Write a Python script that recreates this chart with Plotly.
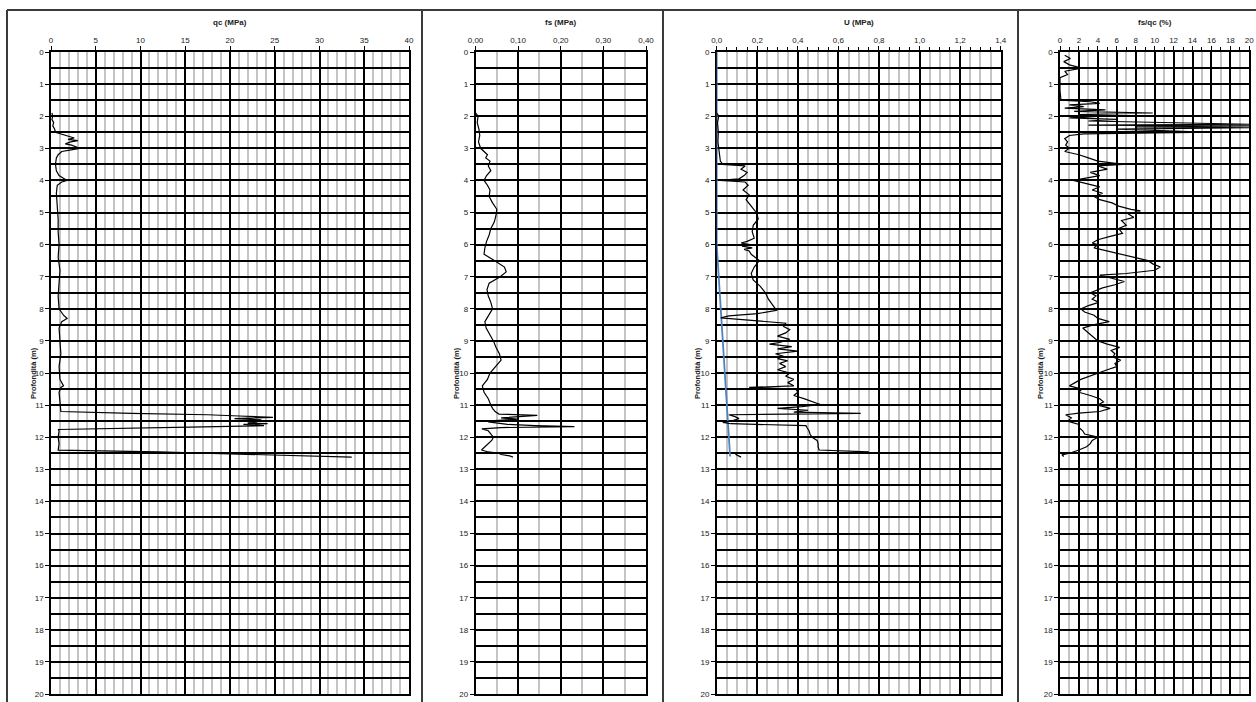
import plotly.graph_objects as go

# ---------------- CPTU profile data ----------------
# Cone resistance qc (MPa)
depth_qc = [1.90, 2.00, 2.10, 2.20, 2.30, 2.40, 2.50, 2.56, 2.62, 2.68, 2.72, 2.76, 2.80, 2.86,
            2.90, 2.96, 3.00, 3.04, 3.10, 3.20, 3.30, 3.50, 3.70, 3.85, 3.95, 4.00, 4.05, 4.15,
            4.40, 4.80, 5.20, 5.60, 6.00, 6.40, 6.80, 7.20, 7.60, 8.00, 8.20, 8.30, 8.40, 8.60,
            9.00, 9.40, 9.80, 10.20, 10.40, 10.45, 10.60, 10.90, 11.20, 11.26, 11.30, 11.34,
            11.38, 11.42, 11.46, 11.50, 11.52, 11.56, 11.58, 11.60, 11.64, 11.68, 11.72, 11.76,
            11.80, 12.00, 12.20, 12.40, 12.46, 12.50, 12.54, 12.58, 12.62]
qc = [0.1, 0.2, 0.1, 0.3, 0.2, 0.4, 0.5, 1.2, 1.8, 2.6, 1.9, 3.0, 2.2, 1.6,
      2.3, 2.9, 3.2, 2.4, 1.2, 0.8, 0.6, 0.5, 0.6, 0.9, 1.5, 1.8, 1.2, 0.7,
      0.6, 0.7, 0.8, 0.8, 0.9, 0.8, 1.0, 0.9, 0.8, 0.9, 1.4, 1.8, 1.2, 0.9,
      1.0, 1.1, 0.9, 1.0, 1.4, 1.1, 0.9, 1.0, 1.1, 9.0, 17.5, 21.0,
      24.8, 20.5, 23.5, 21.2, 23.0, 22.0, 24.2, 21.5, 23.8, 17.0, 6.0, 0.8,
      0.9, 0.8, 0.9, 0.8, 12.0, 18.0, 24.5, 30.0, 33.6]

# Sleeve friction fs (MPa)
depth_fs = [1.90, 2.00, 2.20, 2.40, 2.60, 2.80, 3.00, 3.10, 3.20, 3.30, 3.40, 3.55, 3.70, 3.85,
            4.00, 4.15, 4.30, 4.50, 4.70, 4.90, 5.10, 5.30, 5.50, 5.70, 5.90, 6.10, 6.30, 6.50,
            6.70, 6.85, 7.00, 7.20, 7.40, 7.60, 7.80, 8.00, 8.20, 8.40, 8.60, 8.80, 9.00, 9.20,
            9.40, 9.60, 9.80, 10.00, 10.20, 10.40, 10.60, 10.80, 11.00, 11.10, 11.20, 11.28,
            11.32, 11.36, 11.40, 11.44, 11.48, 11.52, 11.56, 11.60, 11.64, 11.67, 11.70, 11.74,
            11.80, 11.90, 12.00, 12.10, 12.20, 12.30, 12.40, 12.46, 12.50, 12.54, 12.58, 12.62]
fs = [0.000, 0.006, 0.004, 0.008, 0.010, 0.007, 0.012, 0.020, 0.028, 0.024, 0.034, 0.030, 0.036, 0.026,
      0.020, 0.028, 0.034, 0.032, 0.040, 0.050, 0.048, 0.044, 0.036, 0.032, 0.026, 0.022, 0.020, 0.045,
      0.068, 0.072, 0.058, 0.032, 0.027, 0.030, 0.036, 0.040, 0.030, 0.022, 0.025, 0.034, 0.042, 0.048,
      0.056, 0.060, 0.046, 0.034, 0.028, 0.016, 0.020, 0.030, 0.036, 0.040, 0.046, 0.055,
      0.145, 0.090, 0.060, 0.100, 0.045, 0.030, 0.050, 0.075, 0.140, 0.232, 0.060, 0.015,
      0.030, 0.036, 0.042, 0.038, 0.030, 0.024, 0.014, 0.030, 0.055, 0.060, 0.080, 0.088]

# Pore pressure U (MPa)
depth_u = [1.90, 2.00, 2.20, 2.50, 2.80, 3.00, 3.20, 3.40, 3.50, 3.55, 3.65, 3.75, 3.85, 3.95,
           4.00, 4.05, 4.15, 4.30, 4.45, 4.60, 4.80, 5.00, 5.20, 5.40, 5.60, 5.80, 5.90, 5.95,
           6.00, 6.05, 6.10, 6.15, 6.20, 6.30, 6.50, 6.70, 6.90, 7.10, 7.30, 7.50, 7.70, 7.90,
           8.05, 8.15, 8.22, 8.28, 8.35, 8.45, 8.55, 8.65, 8.75, 8.85, 8.95, 9.05, 9.10, 9.18,
           9.25, 9.32, 9.40, 9.48, 9.55, 9.62, 9.70, 9.80, 9.90, 10.00, 10.10, 10.20, 10.30,
           10.40, 10.45, 10.50, 10.60, 10.70, 10.80, 10.90, 10.98, 11.05, 11.10, 11.16, 11.22,
           11.26, 11.30, 11.36, 11.42, 11.48, 11.54, 11.58, 11.64, 11.70, 11.80, 11.90, 12.00,
           12.10, 12.20, 12.30, 12.40, 12.46, 12.50, 12.54, 12.58, 12.62]
u = [0.000, 0.010, 0.004, 0.008, 0.006, 0.010, 0.012, 0.018, 0.030, 0.140, 0.120, 0.150, 0.135, 0.110,
     0.015, 0.140, 0.155, 0.130, 0.160, 0.145, 0.170, 0.195, 0.205, 0.180, 0.175, 0.185, 0.150, 0.120,
     0.165, 0.125, 0.175, 0.135, 0.160, 0.170, 0.210, 0.185, 0.170, 0.180, 0.215, 0.240, 0.255, 0.280,
     0.295, 0.200, 0.060, 0.020, 0.150, 0.340, 0.330, 0.360, 0.340, 0.300, 0.360, 0.310, 0.260, 0.370,
     0.300, 0.400, 0.290, 0.330, 0.300, 0.350, 0.310, 0.340, 0.300, 0.360, 0.340, 0.380, 0.350,
     0.380, 0.160, 0.390, 0.400, 0.380, 0.430, 0.480, 0.510, 0.420, 0.300, 0.450, 0.380,
     0.710, 0.060, 0.090, 0.110, 0.080, 0.030, 0.070, 0.440, 0.445, 0.455, 0.460, 0.470,
     0.495, 0.500, 0.500, 0.505, 0.750, 0.100, 0.095, 0.110, 0.120]

# Hydrostatic pressure (water table at about 6 m)
depth_u0 = [0.0, 6.0, 12.6]
u0 = [0.0, 0.0, 0.066]

# Friction ratio fs/qc (%)
depth_rf = [0.10, 0.20, 0.30, 0.40, 0.50, 0.55, 0.60, 0.70, 0.75, 0.80, 1.20, 1.50, 1.55, 1.60,
            1.65, 1.70, 1.75, 1.80, 1.85, 1.90, 1.95, 2.00, 2.05, 2.10, 2.15, 2.20, 2.25, 2.28,
            2.30, 2.33, 2.36, 2.40, 2.45, 2.50, 2.55, 2.60, 2.70, 2.80, 2.90, 3.00, 3.10, 3.20,
            3.30, 3.40, 3.50, 3.55, 3.65, 3.75, 3.85, 3.95, 4.00, 4.10, 4.20, 4.30, 4.40, 4.50,
            4.60, 4.70, 4.80, 4.90, 4.95, 5.05, 5.15, 5.25, 5.40, 5.50, 5.65, 5.75, 5.85, 5.95,
            6.00, 6.10, 6.20, 6.30, 6.40, 6.50, 6.60, 6.70, 6.80, 6.90, 6.95, 7.05, 7.15, 7.25,
            7.35, 7.50, 7.60, 7.70, 7.80, 7.90, 8.00, 8.10, 8.20, 8.30, 8.40, 8.50, 8.60, 8.70,
            8.80, 8.90, 9.00, 9.10, 9.20, 9.30, 9.40, 9.50, 9.60, 9.70, 9.80, 9.90, 10.00, 10.10,
            10.20, 10.30, 10.40, 10.50, 10.60, 10.70, 10.80, 10.90, 11.00, 11.10, 11.20, 11.25,
            11.30, 11.40, 11.50, 11.60, 11.70, 11.80, 11.90, 12.00, 12.10, 12.20, 12.30, 12.40,
            12.50, 12.55, 12.60]
rf = [0.5, 1.1, 0.4, 1.0, 2.3, 1.5, 0.5, 0.8, 0.3, 0.0, 0.0, 0.1, 3.2, 4.2,
      1.0, 2.5, 0.5, 4.8, 1.5, 9.8, 2.0, 4.5, 1.0, 6.0, 3.0, 12.0, 20.0, 3.0,
      20.0, 8.0, 20.0, 6.0, 11.0, 16.0, 2.5, 1.0, 0.5, 0.8, 0.6, 1.0, 0.5, 2.0,
      3.0, 4.0, 6.7, 4.0, 5.0, 3.2, 4.2, 2.0, 1.4, 2.8, 4.2, 3.4, 4.5, 3.6,
      4.2, 5.5, 6.2, 7.5, 8.5, 7.2, 7.8, 6.5, 7.0, 6.2, 6.6, 5.2, 4.0, 3.4,
      4.0, 3.6, 5.0, 6.5, 7.8, 9.3, 9.8, 10.6, 10.0, 7.0, 4.2, 5.5, 6.8, 5.8,
      4.5, 3.2, 3.8, 3.4, 4.1, 3.0, 2.2, 2.6, 3.6, 4.0, 5.2, 3.5, 2.4, 2.8,
      3.2, 3.6, 4.0, 5.0, 6.3, 5.4, 5.8, 5.6, 6.4, 5.8, 6.0, 5.0, 4.0, 3.0,
      2.2, 1.6, 1.0, 2.3, 2.0, 3.2, 4.2, 4.6, 4.0, 5.3, 4.2, 2.0,
      0.6, 1.2, 0.8, 2.0, 2.0, 2.4, 2.6, 4.0, 3.4, 3.2, 2.8, 2.0,
      1.0, 0.2, 0.4]

# Axis titles and tick settings for each panel
titles = ["qc (MPa)", "fs (MPa)", "U (MPa)", "fs/qc (%)"]
x_ranges = [[0, 40], [0, 0.4], [0, 1.4], [0, 20]]
x_major = [5, 0.1, 0.2, 2]
x_minor = [1, 0.05, 0.05, 1]
x_formats = ["d", ".2f", ".1f", "d"]
depth_label = "Profondità (m)"

# ---------------- layout geometry (pixels) ----------------
W, H = 1256, 702
px_left = [51, 475.5, 716.7, 1060]
px_right = [409, 646, 1000.7, 1249.3]
px_top, px_bottom = 52, 694
ytitle_px = [33, 456, 697, 1040]
frame_x = [7, 422, 663, 1018]
frame_top = 10


def fx(px):
    return px / W


def fy(py):
    return 1 - py / H


FONT = "Liberation Sans, Arial, sans-serif"
TXT = "#1a1a1a"

fig = go.Figure()

series = [(depth_qc, qc), (depth_fs, fs), (depth_u, u), (depth_rf, rf)]
for i, (d, v) in enumerate(series):
    sfx = "" if i == 0 else str(i + 1)
    if i == 2:
        fig.add_trace(go.Scatter(x=u0, y=depth_u0, mode="lines",
                                 line=dict(color="#4f81bd", width=1.8),
                                 xaxis="x" + sfx, yaxis="y" + sfx, showlegend=False,
                                 hoverinfo="skip", cliponaxis=False))
    fig.add_trace(go.Scatter(x=v, y=d, mode="lines",
                             line=dict(color="black", width=1.2),
                             xaxis="x" + sfx, yaxis="y" + sfx, showlegend=False))

layout = dict(
    width=W, height=H,
    margin=dict(l=0, r=0, t=0, b=0, autoexpand=False),
    paper_bgcolor="white", plot_bgcolor="white",
    separators=",.",
    font=dict(family=FONT, size=8, color=TXT),
    shapes=[], annotations=[],
)

for i in range(4):
    sfx = "" if i == 0 else str(i + 1)
    minor_ticks = "outside" if i >= 2 else ""
    # U panel: draw axis lines beneath the traces so the hydrostatic line stays visible
    axis_layer = "below traces" if i == 2 else "above traces"
    layout["xaxis" + sfx] = dict(
        domain=[fx(px_left[i]), fx(px_right[i])],
        anchor="y" + sfx, side="top", automargin=False,
        range=x_ranges[i], dtick=x_major[i], tick0=0,
        tickformat=x_formats[i],
        showgrid=True, gridcolor="black", gridwidth=1.5,
        minor=dict(dtick=x_minor[i], tick0=0, showgrid=True, gridcolor="#c4c4c4",
                   gridwidth=1.5, ticks=minor_ticks, ticklen=3, tickcolor="black"),
        ticks="outside", ticklen=4, tickcolor="black", tickwidth=1,
        showline=True, mirror=True, linecolor="black", linewidth=1.5,
        zeroline=False, fixedrange=True, layer=axis_layer,
        tickfont=dict(size=8, color=TXT, family=FONT),
    )
    layout["yaxis" + sfx] = dict(
        domain=[fy(px_bottom), fy(px_top)],
        anchor="x" + sfx, automargin=False,
        range=[20, 0], dtick=1, tick0=0,
        showgrid=True, gridcolor="black", gridwidth=1.5,
        minor=dict(dtick=0.5, tick0=0, showgrid=True, gridcolor="black", gridwidth=1.5),
        ticks="outside", ticklen=4, tickcolor="black", tickwidth=1,
        showline=True, mirror=True, linecolor="black", linewidth=1.5,
        zeroline=False, fixedrange=True, layer=axis_layer,
        tickfont=dict(size=8, color=TXT, family=FONT),
    )
    # panel title above the top axis
    layout["annotations"].append(dict(
        text="<b>" + titles[i] + "</b>", xref="paper", yref="paper",
        x=fx((px_left[i] + px_right[i]) / 2), y=fy(23),
        xanchor="center", yanchor="middle", showarrow=False,
        font=dict(size=8, color=TXT, family=FONT)))
    # depth label on the left
    layout["annotations"].append(dict(
        text="<b>" + depth_label + "</b>", xref="paper", yref="paper",
        x=fx(ytitle_px[i]), y=fy(373), textangle=-90,
        xanchor="center", yanchor="middle", showarrow=False,
        font=dict(size=7.5, color=TXT, family=FONT)))

# panel frames
frame_line = dict(color="#3a3a3a", width=2)
layout["shapes"].append(dict(type="line", xref="paper", yref="paper",
                             x0=fx(frame_x[0]), x1=1, y0=fy(frame_top), y1=fy(frame_top),
                             line=frame_line))
for xp in frame_x:
    layout["shapes"].append(dict(type="line", xref="paper", yref="paper",
                                 x0=fx(xp), x1=fx(xp), y0=fy(frame_top), y1=0,
                                 line=frame_line))

fig.update_layout(**layout)
fig.write_html("out.html")
